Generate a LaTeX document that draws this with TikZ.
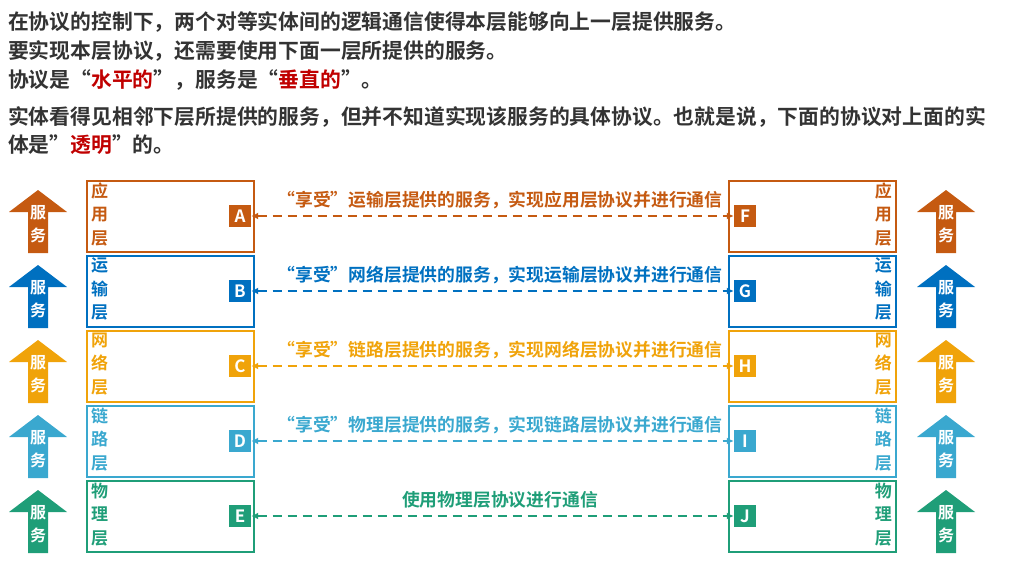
\documentclass[tikz,border=0pt]{standalone}
\usepackage{fontspec}
\setmainfont{Noto Sans CJK SC}[BoldFont={Noto Sans CJK SC Bold}]
\usetikzlibrary{arrows.meta}
\definecolor{c1}{HTML}{C55A11}
\definecolor{c2}{HTML}{0070C0}
\definecolor{c3}{HTML}{F0A30A}
\definecolor{c4}{HTML}{3AA8CF}
\definecolor{c5}{HTML}{1F9E78}
\definecolor{rd}{HTML}{C00000}
\definecolor{tx}{HTML}{333333}
\tikzset{
 layer/.style={draw=#1,line width=2pt,minimum width=167pt,minimum height=71pt,inner sep=0pt},
 lname/.style={text=#1,font=\bfseries\fontsize{17}{23.5}\selectfont,align=center,inner sep=0pt},
 tag/.style={fill=#1,text=white,font=\bfseries\fontsize{17}{17}\selectfont,minimum width=22pt,minimum height=22pt,inner sep=0pt},
 conn/.style={draw=#1,line width=2pt,dash pattern=on 9pt off 6pt,{Latex[length=7pt,width=7pt]}-{Latex[length=7pt,width=7pt]}},
 clabel/.style={text=#1,font=\bfseries\fontsize{17.8}{19}\selectfont,inner sep=0pt},
 svc/.style={fill=#1,draw=none},
 toptext/.style={font=\bfseries\fontsize{20.8}{24}\selectfont,text=tx,anchor=west,inner sep=0pt}
}
\begin{document}
\begin{tikzpicture}[x=1pt,y=-1pt]
\useasboundingbox (0,0) rectangle (1027,587);
\node[toptext] (t1) at (8,22) {在协议的控制下，两个对等实体间的逻辑通信使得本层能够向上一层提供服务。};
\node[toptext] (t2) at (8,51) {要实现本层协议，还需要使用下面一层所提供的服务。};
\node[toptext] (t3) at (8,80) {协议是“\textcolor{rd}{水平的}”，服务是“\textcolor{rd}{垂直的}”。};
\node[toptext] (t4) at (8,117) {实体看得见相邻下层所提供的服务，但并不知道实现该服务的具体协议。也就是说，下面的协议对上面的实};
\node[toptext] (t5) at (8,145) {体是"\textcolor{rd}{透明}"的。};
\foreach \i/\c/\a/\b/\ll/\tl/\txt in {
 1/c1/应/用/A/F/“享受”运输层提供的服务，实现应用层协议并进行通信,
 2/c2/运/输/B/G/“享受”网络层提供的服务，实现运输层协议并进行通信,
 3/c3/网/络/C/H/“享受”链路层提供的服务，实现网络层协议并进行通信,
 4/c4/链/路/D/I/“享受”物理层提供的服务，实现链路层协议并进行通信,
 5/c5/物/理/E/J/使用物理层协议进行通信}{
 \pgfmathsetmacro{\yc}{141+75*\i}
 \node[layer=\c] (L\i) at (170.5,\yc) {};
 \node[layer=\c] (R\i) at (812.5,\yc) {};
 \node[lname=\c,anchor=north west] (ln\i) at ([xshift=5pt,yshift=-3pt]L\i.north west) {\a\\\b\\层};
 \node[lname=\c,anchor=north east] (rn\i) at ([xshift=-5pt,yshift=-3pt]R\i.north east) {\a\\\b\\层};
 \node[tag=\c] (\ll) at (240,\yc) {\ll};
 \node[tag=\c] (\tl) at (745,\yc) {\tl};
 \draw[conn=\c] (\ll.east) -- (\tl.west);
 \node[clabel=\c] (lab\i) at (500,\yc-16) {\txt};
 \foreach \cx/\nm in {38/sl,946/sr}{
  \fill[svc=\c] (\cx-10,\yc+37) -- (\cx-10,\yc-4) -- (\cx-29,\yc-4) -- (\cx,\yc-26) -- (\cx+29,\yc-4) -- (\cx+10,\yc-4) -- (\cx+10,\yc+37) -- cycle;
  \node[text=white,font=\bfseries\fontsize{16}{23}\selectfont,align=center,inner sep=0pt] (\nm\i) at (\cx,\yc+8) {服\\务};
 }
}
\end{tikzpicture}
\end{document}
